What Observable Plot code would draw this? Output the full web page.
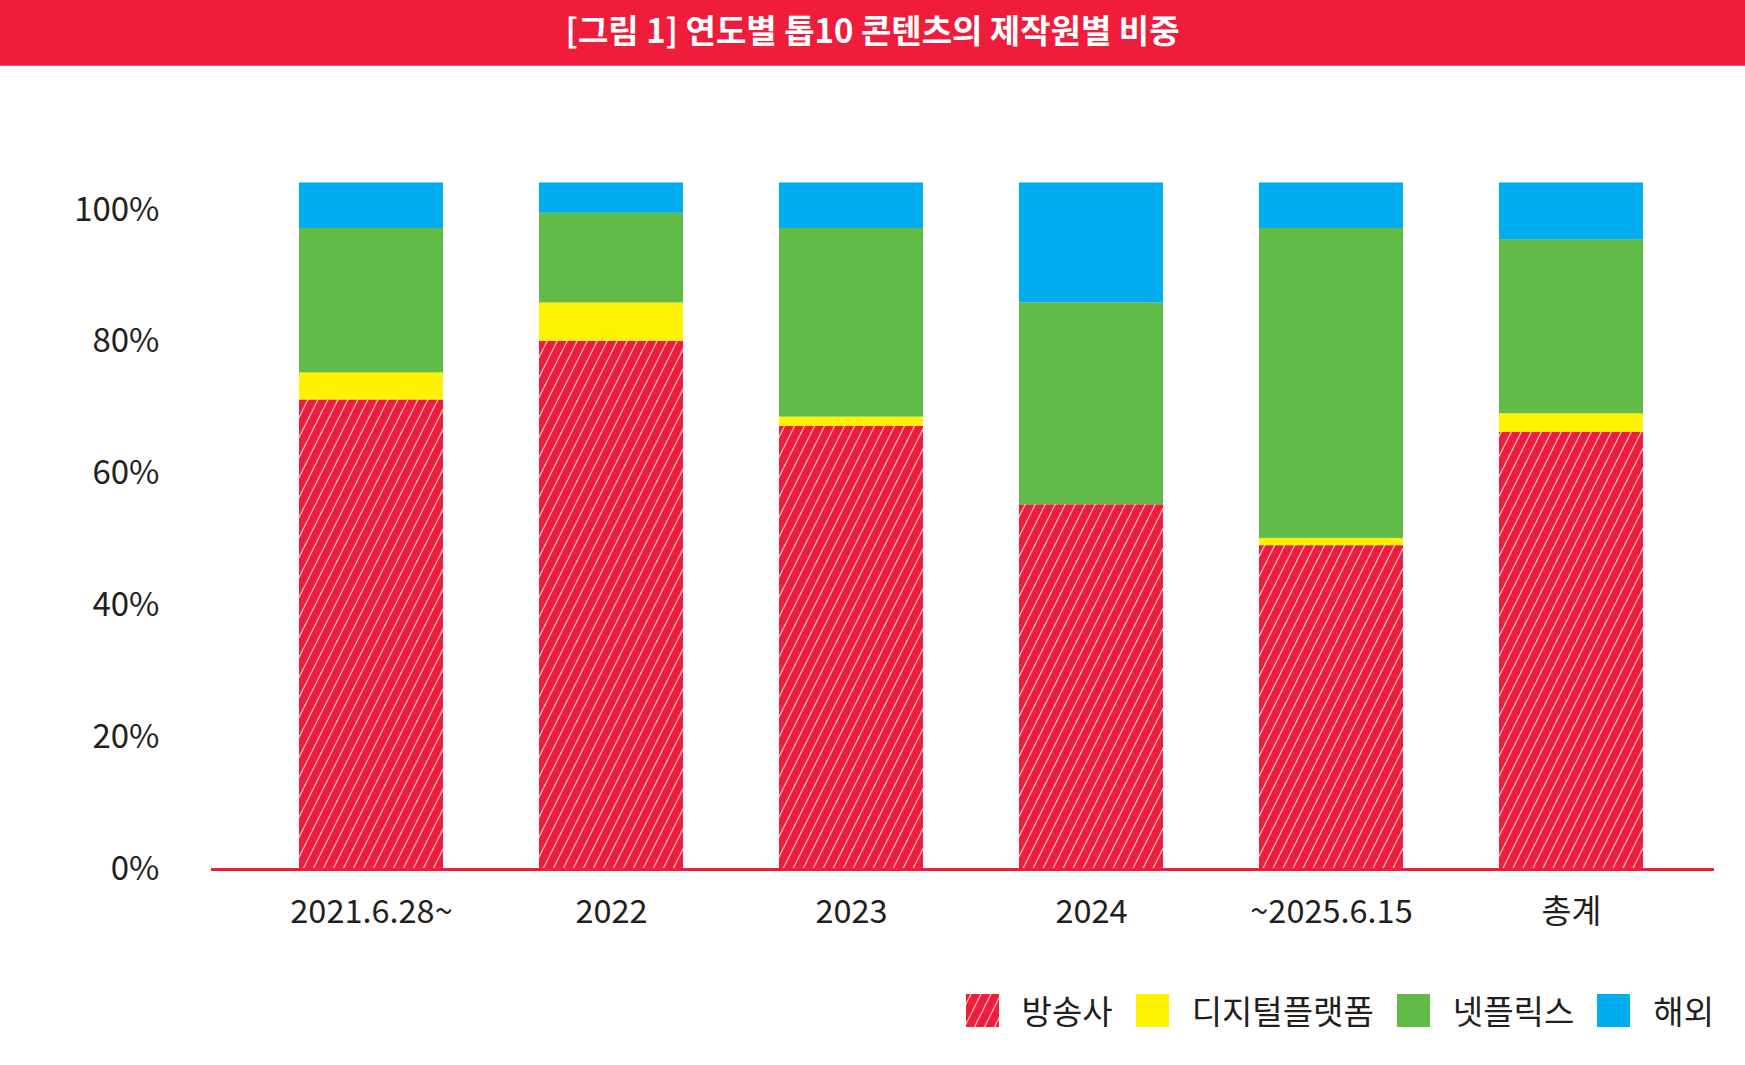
<!DOCTYPE html>
<html>
<head>
<meta charset="utf-8">
<script src="https://cdn.jsdelivr.net/npm/d3@7"></script>
<script src="https://cdn.jsdelivr.net/npm/@observablehq/plot@0.6"></script>
<style>
  html, body { margin: 0; padding: 0; background: #fff; }
  body { width: 1745px; height: 1065px; overflow: hidden; font-family: "Noto Sans CJK KR", "Noto Sans", sans-serif; color: #231f20; }
  #header { height: 66px; background: #ef1c3c; border-bottom: 1px solid #f25068; box-sizing: border-box; color: #fff; font-weight: 700; font-size: 33px; text-align: center; line-height: 58px; }
  #chart svg { display: block; }
  #legend { display: flex; justify-content: flex-end; align-items: center; padding-right: 31px; margin-top: 26px; font-size: 33px; }
  .item { display: flex; align-items: center; margin-left: 23px; }
  .item svg { display: block; margin-right: 23px; }
</style>
</head>
<body>
<div id="header">[그림 1] 연도별 톱10 콘텐츠의 제작원별 비중</div>
<div id="chart"></div>
<div id="legend"></div>
<script>
const categories = ["2021.6.28~", "2022", "2023", "2024", "~2025.6.15", "총계"];
const series = ["방송사", "디지털플랫폼", "넷플릭스", "해외"];
const broadcaster = [71.2, 80.1, 67.2, 55.3, 49.1, 66.3];
const digital = [4.1, 5.8, 1.4, 0, 1.1, 2.8];
const netflix = [21.9, 13.6, 28.6, 30.6, 47.0, 26.4];
const overseas = [6.9, 4.6, 6.9, 18.2, 6.9, 8.6];
const yTicks = [0, 20, 40, 60, 80, 100];
const colors = ["url(#hatch)", "#fff200", "#62bb47", "#00aeef"];

const valuesBySeries = [broadcaster, digital, netflix, overseas];
const table = [];
series.forEach((s, si) => {
  categories.forEach((c, ci) => {
    table.push({category: c, series: s, value: valuesBySeries[si][ci]});
  });
});

const plot = Plot.plot({
  width: 1745,
  height: 894,
  marginLeft: 211,
  marginRight: 31,
  marginTop: 143.5,
  marginBottom: 91,
  style: {fontFamily: "'Noto Sans CJK KR', 'Noto Sans', sans-serif", fontSize: "32px", color: "#231f20", background: "transparent"},
  x: {domain: categories, paddingInner: 0.4, paddingOuter: 0.3266, align: 0.554, label: null},
  y: {domain: [0, 100], label: null},
  color: {domain: series, range: colors},
  marks: [
    Plot.barY(table, {x: "category", y: "value", fill: "series", order: series}),
    Plot.axisY({ticks: yTicks, tickFormat: d => d + "%", tickSize: 0, tickPadding: 52, fontSize: 33}),
    Plot.axisX({tickSize: 0, tickPadding: 30, fontSize: 32.5}),
    Plot.ruleY([0], {stroke: "#ef1c3c", strokeWidth: 3})
  ]
});

// hatch pattern definition
const ns = "http://www.w3.org/2000/svg";
const defs = document.createElementNS(ns, "defs");
defs.innerHTML = `<pattern id="hatch" patternUnits="userSpaceOnUse" width="8.94" height="8.94" patternTransform="rotate(26.57)">
  <rect width="8.94" height="8.94" fill="#ef1c3c"></rect>
  <line x1="4.47" y1="-1" x2="4.47" y2="10" stroke="#ffffff" stroke-opacity="0.8" stroke-width="1.1"></line>
</pattern>`;
plot.insertBefore(defs, plot.firstChild);
document.getElementById("chart").appendChild(plot);

// legend
const legend = document.getElementById("legend");
series.forEach((s, i) => {
  const item = document.createElement("div");
  item.className = "item";
  item.innerHTML = `<svg width="33" height="33"><rect width="33" height="33" fill="${colors[i]}"></rect></svg><span>${s}</span>`;
  legend.appendChild(item);
});
</script>
</body>
</html>
